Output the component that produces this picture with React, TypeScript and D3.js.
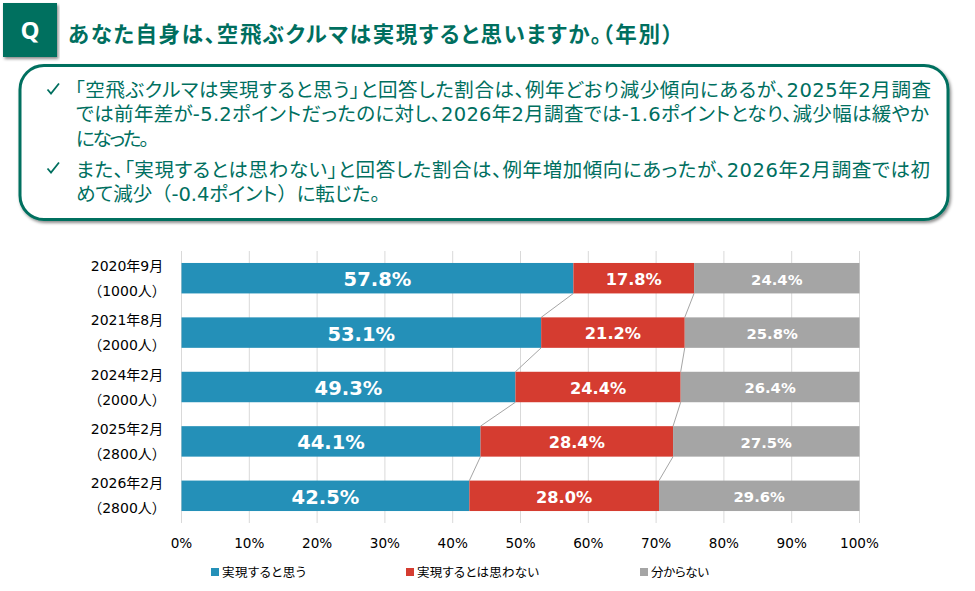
import React from "react";
import * as d3 from "d3";

const periods = ["2020年9月", "2021年8月", "2024年2月", "2025年2月", "2026年2月"];
const samples = ["（1000人）", "（2000人）", "（2000人）", "（2800人）", "（2800人）"];
const seriesNames = ["実現すると思う", "実現するとは思わない", "分からない"];
const yes = [57.8, 53.1, 49.3, 44.1, 42.5];
const no = [17.8, 21.2, 24.4, 28.4, 28.0];
const unsure = [24.4, 25.8, 26.4, 27.5, 29.6];
const colors = ["#2490B8", "#D53C30", "#A5A5A5"];
const xTicks = [0, 0.1, 0.2, 0.3, 0.4, 0.5, 0.6, 0.7, 0.8, 0.9, 1];
const title = "あなた自身は、空飛ぶクルマは実現すると思いますか。（年別）";
const bodyLines = [
  "「空飛ぶクルマは実現すると思う」と回答した割合は、例年どおり減少傾向にあるが、2025年2月調査",
  "では前年差が-5.2ポイントだったのに対し、2026年2月調査では-1.6ポイントとなり、減少幅は緩やか",
  "になった。",
  "また、「実現するとは思わない」と回答した割合は、例年増加傾向にあったが、2026年2月調査では初",
  "めて減少（-0.4ポイント）に転じた。",
];

const GREEN = "#006F5F";
const FONT = `"DejaVu Sans", "Noto Sans CJK JP", sans-serif`;
const PALT = { fontFeatureSettings: '"palt"' };
const NOPALT = { fontFeatureSettings: "normal" };

const rows = periods.map((p, i) => ({ p, a: yes[i], b: no[i], c: unsure[i] }));
const stacked = d3.stack<any>().keys(["a", "b", "c"]).offset(d3.stackOffsetExpand)(rows);
const x = d3.scaleLinear().domain([0, 1]).range([181.5, 859.5]);
const y = d3.scaleBand().domain(periods).range([251, 523]).paddingInner(0.44).paddingOuter(0.22);
const labelSizes = [19.5, 16.2, 14.8];
const legendX = [211, 406, 640];
const legendW = [84, 122, 58];

const bodyLayout = [
  { x: 75, y: 97, w: 856 },
  { x: 76, y: 121, w: 853 },
  { x: 76, y: 146, w: 73 },
  { x: 76, y: 177, w: 854 },
  { x: 76, y: 201, w: 304 },
];

// Full-width parentheses keep their full width, as in the reference.
const parenParts = (t: string) =>
  t.split(/([（）])/).filter(Boolean).map((part, i) => (
    <tspan key={i} style={part === "（" || part === "）" ? NOPALT : PALT}>{part}</tspan>
  ));

export default function App() {
  const bw = y.bandwidth();
  return (
    <svg width={975} height={591} style={{ position: "absolute", left: 0, top: 0, background: "#fff" }}>
      <defs>
        <filter id="sh" x="-5%" y="-10%" width="110%" height="120%">
          <feDropShadow dx="1.5" dy="2" stdDeviation="1.6" floodColor="#000" floodOpacity="0.45" />
        </filter>
      </defs>
      <rect x={3} y={3} width={54} height={54} fill={GREEN} filter="url(#sh)" />
      <text x={30} y={39} textAnchor="middle" fill="#fff" fontFamily={`"Open Sans", ${FONT}`} fontWeight="700" fontSize={24}>Q</text>
      <text x={68} y={42} fill={GREEN} fontFamily={FONT} fontWeight="700" fontSize={21.5} textLength={615} lengthAdjust="spacing">{parenParts(title)}</text>
      <rect x={20} y={65.5} width={928} height={154} rx={24} fill="#fff" stroke={GREEN} strokeWidth={3} filter="url(#sh)" />
      {[89, 168].map((cy) => (
        <path key={cy} d={`M${47.5} ${cy + 0.5}l3.5 4l8 -10`} fill="none" stroke={GREEN} strokeWidth={1.8} />
      ))}
      {bodyLines.map((t, i) => (
        <text key={i} x={bodyLayout[i].x} y={bodyLayout[i].y} fill={GREEN} fontFamily={FONT} fontSize={19.5}
          textLength={bodyLayout[i].w} lengthAdjust="spacing">{parenParts(t)}</text>
      ))}

      {xTicks.map((t) => (
        <g key={t}>
          <line x1={x(t)} x2={x(t)} y1={251} y2={523} stroke="#D9D9D9" strokeWidth={1} />
          <text x={x(t)} y={548} textAnchor="middle" fill="#000" fontFamily={FONT} fontSize={13.6}>{d3.format(".0%")(t)}</text>
        </g>
      ))}
      {stacked.slice(0, 2).map((s) =>
        s.slice(0, -1).map((d, i) => (
          <line key={`${s.key}${i}`} x1={x(d[1])} x2={x(s[i + 1][1])} y1={y(periods[i])! + bw} y2={y(periods[i + 1])!} stroke="#A5A5A5" strokeWidth={1} />
        ))
      )}
      {stacked.map((s, si) =>
        s.map((d, i) => {
          const cy = y(periods[i])!;
          const val = [yes, no, unsure][si][i];
          return (
            <g key={`${si}-${i}`}>
              <rect x={x(d[0])} y={cy} width={x(d[1]) - x(d[0])} height={bw} fill={colors[si]} />
              <text x={(x(d[0]) + x(d[1])) / 2} y={cy + bw / 2 + labelSizes[si] * 0.36 + 1} textAnchor="middle" fill="#fff" fontFamily={FONT} fontWeight="700" fontSize={labelSizes[si]}>
                {val.toFixed(1)}%
              </text>
            </g>
          );
        })
      )}
      {periods.map((p, i) => {
        const cy = y(p)! + bw / 2;
        return (
          <g key={p} fontFamily={FONT} fontSize={14} fill="#000" textAnchor="middle">
            <text x={127} y={cy - 7.5}>{p}</text>
            <text x={127} y={cy + 17.5}>{samples[i]}</text>
          </g>
        );
      })}
      {seriesNames.map((n, i) => (
        <g key={n}>
          <rect x={legendX[i]} y={568} width={8} height={8} fill={colors[i]} />
          <text x={legendX[i] + 11} y={577} fill="#000" fontFamily={FONT} fontSize={12.5} textLength={legendW[i]} lengthAdjust="spacing" style={PALT}>{n}</text>
        </g>
      ))}
    </svg>
  );
}
